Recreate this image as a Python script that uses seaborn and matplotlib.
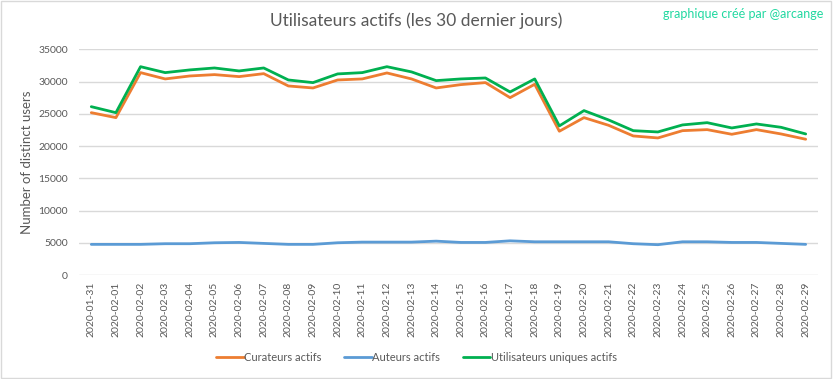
import pandas as pd
import matplotlib
matplotlib.use("Agg")
import matplotlib.pyplot as plt
import seaborn as sns

dates = pd.date_range("2020-01-31", "2020-02-29").strftime("%Y-%m-%d").tolist()

curateurs = [25170, 24400, 31380, 30400, 30860, 31070, 30760, 31220, 29310, 29000,
             30240, 30400, 31330, 30400, 29000, 29520, 29830, 27500, 29570, 22290,
             24400, 23210, 21560, 21250, 22380, 22540, 21820, 22540, 21870, 21050]
auteurs = [4750, 4750, 4750, 4850, 4850, 5000, 5050, 4900, 4750, 4750,
           5000, 5100, 5100, 5100, 5250, 5050, 5050, 5300, 5150, 5150,
           5150, 5150, 4850, 4700, 5150, 5150, 5050, 5050, 4900, 4750]
uniques = [26100, 25170, 32300, 31380, 31800, 32100, 31640, 32100, 30240, 29830,
           31180, 31380, 32300, 31490, 30140, 30400, 30550, 28380, 30400, 23120,
           25490, 24040, 22380, 22180, 23270, 23620, 22800, 23420, 22900, 21870]

series_names = ["Curateurs actifs", "Auteurs actifs", "Utilisateurs uniques actifs"]
colors = ["#ED7D31", "#5B9BD5", "#00B050"]

df = pd.DataFrame({
    "date": dates * 3,
    "value": curateurs + auteurs + uniques,
    "serie": [series_names[0]] * 30 + [series_names[1]] * 30 + [series_names[2]] * 30,
})
df["pos"] = list(range(30)) * 3

sns.set_style("white")
plt.rcParams["font.family"] = ["Lato", "DejaVu Sans"]

fig = plt.figure(figsize=(8.33, 3.79), dpi=100)
ax = fig.add_axes([0.0948, 0.2744, 0.8872, 0.5956])

sns.lineplot(data=df, x="pos", y="value", hue="serie", palette=colors,
             linewidth=2, ax=ax, legend=False)

ax.set_xlim(-0.5, 29.5)
ax.set_ylim(0, 35000)
ax.set_yticks(range(0, 35001, 5000))
ax.set_xticks(range(30))
ax.set_xticklabels(dates, rotation=90, fontsize=7.5, color="#595959")
ax.tick_params(axis="y", labelsize=7.5, labelcolor="#595959", length=0, pad=8)
ax.tick_params(axis="x", length=0, pad=5)
ax.grid(axis="y", color="#D9D9D9", linewidth=1)
for s in ax.spines.values():
    s.set_visible(False)
ax.set_xlabel("")
ax.set_ylabel("Number of distinct users", fontsize=9.5, color="#595959", labelpad=4)

fig.text(0.5, 0.945, "Utilisateurs actifs (les 30 dernier jours)", ha="center",
         va="center", fontsize=12.5, color="#595959")
fig.text(0.988, 0.963, "graphique créé par @arcange", ha="right", va="center",
         fontsize=9, color="#20D8A0")

handles = [plt.Line2D([], [], color=c, linewidth=2) for c in colors]
fig.legend(handles, series_names, loc="center", bbox_to_anchor=(0.5, 0.058),
           ncol=3, frameon=False, fontsize=8, labelcolor="#595959",
           handlelength=2.5, handletextpad=0.05, columnspacing=2)

fig.patches.append(plt.Rectangle((0.001, 0.002), 0.997, 0.995, transform=fig.transFigure,
                                 fill=False, edgecolor="#D9D9D9", linewidth=1))

plt.savefig("out.png", dpi=100)
